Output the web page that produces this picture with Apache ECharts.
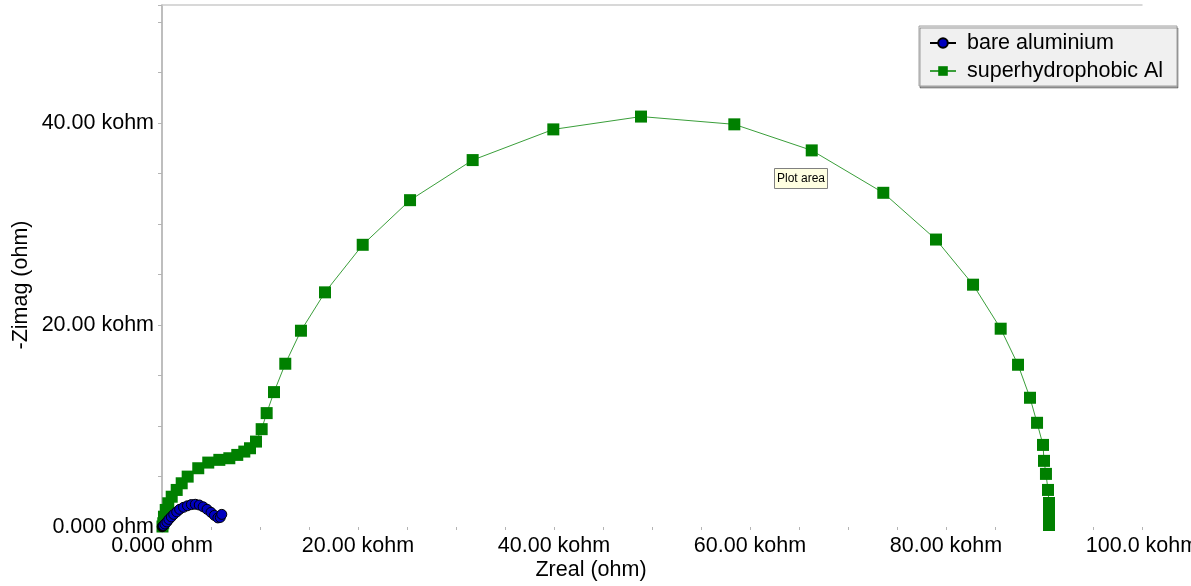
<!DOCTYPE html>
<html>
<head>
<meta charset="utf-8">
<title>Nyquist plot</title>
<script src="https://cdn.jsdelivr.net/npm/echarts@6/dist/echarts.min.js"></script>
<style>
  html, body { margin: 0; padding: 0; background: #ffffff; }
  #chart { width: 1191px; height: 586px; }
</style>
</head>
<body>
<div id="chart"></div>
<script>
// Impedance data in kohm: [Zreal, -Zimag]
const seriesNames = ['bare aluminium', 'superhydrophobic Al'];

const bareAluminium = [
  [0.02, 0.03], [0.15, 0.15], [0.3, 0.3], [0.5, 0.5], [0.7, 0.75], [0.95, 1.0],
  [1.2, 1.25], [1.5, 1.5], [1.8, 1.75], [2.2, 1.95], [2.6, 2.1], [3.0, 2.22],
  [3.4, 2.25], [3.8, 2.18], [4.2, 2.0], [4.6, 1.75], [5.0, 1.45], [5.35, 1.15],
  [5.7, 0.9], [5.95, 0.95], [6.1, 1.25]
];

const superhydrophobicAl = [
  [0.05, 0.05], [0.13, 0.37], [0.2, 1.02], [0.38, 1.69], [0.64, 2.35], [0.99, 3.0],
  [1.5, 3.67], [2.01, 4.33], [2.62, 4.99], [3.7, 5.82], [4.72, 6.38], [5.85, 6.65],
  [6.87, 6.81], [7.68, 7.14], [8.4, 7.47], [8.98, 7.8], [9.59, 8.46], [10.17, 9.69],
  [10.68, 11.28], [11.43, 13.36], [12.58, 16.17], [14.18, 19.44], [16.63, 23.24],
  [20.48, 27.95], [25.31, 32.37], [31.7, 36.34], [39.93, 39.38], [48.88, 40.65],
  [58.4, 39.88], [66.3, 37.3], [73.6, 33.1], [78.98, 28.47], [82.76, 24.0],
  [85.58, 19.64], [87.35, 16.07], [88.57, 12.8], [89.29, 10.32], [89.9, 8.13],
  [90.0, 6.55], [90.2, 5.26], [90.41, 3.67], [90.51, 2.38], [90.51, 1.59],
  [90.51, 0.79], [90.51, 0.2]
];

const xTickLabels = { 0: '0.000 ohm', 20: '20.00 kohm', 40: '40.00 kohm', 60: '60.00 kohm', 80: '80.00 kohm', 100: '100.0 kohm' };
const yTickLabels = { 0: '0.000 ohm', 20: '20.00 kohm', 40: '40.00 kohm' };

const FONT = "'Liberation Sans', Arial, sans-serif";
const FONT_SIZE = 21.5;

// The first bare-aluminium point sits under a stack of outlines at the origin and shows dark
const bareData = bareAluminium.map((p, i) =>
  i === 0 ? { value: p, itemStyle: { color: '#000000' } } : p
);

const chart = echarts.init(document.getElementById('chart'), null, { renderer: 'canvas' });

chart.setOption({
  animation: false,
  backgroundColor: '#ffffff',
  textStyle: { fontFamily: FONT },
  grid: { left: 162, right: 49, top: 5, bottom: 59, containLabel: false, outerBoundsMode: 'none' },
  xAxis: [
    {
      type: 'value',
      min: 0,
      max: 100,
      interval: 5,
      axisLine: { show: false },
      axisTick: { show: true, length: 3, lineStyle: { color: '#b4b4b4', width: 1 } },
      splitLine: { show: false },
      axisLabel: {
        margin: 8,
        fontSize: FONT_SIZE,
        color: '#000000',
        fontFamily: FONT,
        hideOverlap: false,
        formatter: v => (xTickLabels[v] !== undefined ? xTickLabels[v] : '')
      }
    },
    {
      type: 'value',
      position: 'top',
      min: 0,
      max: 100,
      axisLine: { show: true, onZero: false, lineStyle: { color: '#cccccc', width: 1.5 } },
      axisTick: { show: false },
      axisLabel: { show: false },
      splitLine: { show: false }
    }
  ],
  yAxis: {
    type: 'value',
    min: 0,
    max: 51.7,
    interval: 5,
    axisLine: { show: true, onZero: false, lineStyle: { color: '#a8a8a8', width: 1.5 } },
    axisTick: { show: true, length: 4, lineStyle: { color: '#b4b4b4', width: 1 } },
    splitLine: { show: false },
    axisLabel: {
      margin: 8,
      fontSize: FONT_SIZE,
      color: '#000000',
      fontFamily: FONT,
      formatter: v => (yTickLabels[v] !== undefined ? yTickLabels[v] : '')
    }
  },
  legend: {
    orient: 'vertical',
    left: 919,
    top: 26,
    padding: [6, 14, 4, 10],
    itemGap: 6,
    itemWidth: 26,
    itemHeight: 12,
    backgroundColor: '#f0f0f0',
    borderColor: '#a0a0a0',
    borderWidth: 1,
    borderRadius: 0,
    shadowColor: 'rgba(0,0,0,0.35)',
    shadowOffsetX: 1,
    shadowOffsetY: 2,
    shadowBlur: 0,
    data: seriesNames,
    textStyle: { fontSize: FONT_SIZE, color: '#000000', fontFamily: FONT, lineHeight: 22, padding: [0, 0, 0, 6] }
  },
  series: [
    {
      name: seriesNames[1],
      type: 'line',
      data: superhydrophobicAl,
      symbol: 'rect',
      symbolSize: 12,
      showAllSymbol: true,
      z: 2,
      itemStyle: { color: '#008000', borderWidth: 0 },
      lineStyle: { color: '#3a9e3a', width: 1 }
    },
    {
      name: seriesNames[0],
      type: 'line',
      data: bareData,
      symbol: 'circle',
      symbolSize: 10,
      showAllSymbol: true,
      z: 3,
      itemStyle: { color: '#0000c0', borderColor: '#000000', borderWidth: 1 },
      lineStyle: { color: '#000000', width: 1 }
    }
  ],
  graphic: [
    {
      type: 'text',
      x: 591,
      y: 570,
      style: { text: 'Zreal (ohm)', font: FONT_SIZE + "px 'Liberation Sans', Arial, sans-serif", fill: '#000000', align: 'center', verticalAlign: 'middle' }
    },
    {
      type: 'text',
      x: 21,
      y: 285,
      rotation: Math.PI / 2,
      style: { text: '-Zimag (ohm)', font: FONT_SIZE + "px 'Liberation Sans', Arial, sans-serif", fill: '#000000', align: 'center', verticalAlign: 'middle' }
    },
    {
      type: 'group',
      x: 774,
      y: 168,
      children: [
        { type: 'rect', shape: { x: 0.5, y: 0.5, width: 53, height: 20 }, style: { fill: '#ffffe1', stroke: '#808080', lineWidth: 1 } },
        { type: 'text', x: 27, y: 10.5, style: { text: 'Plot area', font: "12px 'Liberation Sans', Arial, sans-serif", fill: '#000000', align: 'center', verticalAlign: 'middle' } }
      ]
    }
  ]
});
</script>
</body>
</html>
